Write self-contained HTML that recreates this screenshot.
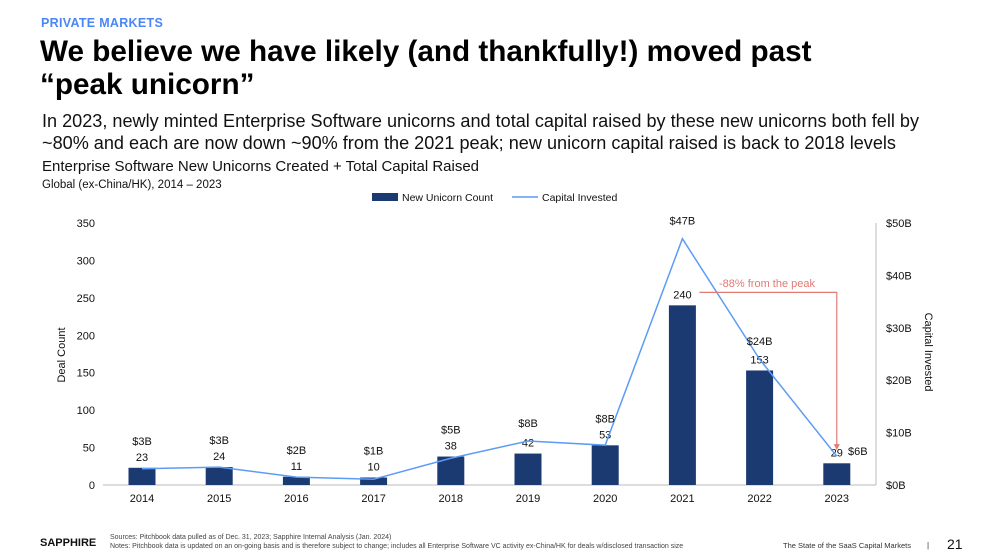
<!DOCTYPE html>
<html><head><meta charset="utf-8">
<style>
body{margin:0;width:1000px;height:559px;background:#fff;font-family:"Liberation Sans",sans-serif;position:relative;overflow:hidden;color:#111}
.a{position:absolute;white-space:nowrap}
</style></head><body>
<div class="a" style="left:41px;top:16px;font-size:12.5px;font-weight:bold;color:#4a86f7;letter-spacing:0.3px">PRIVATE MARKETS</div>
<div class="a" style="left:40px;top:35px;font-size:29.7px;font-weight:bold;line-height:33px;color:#000">We believe we have likely (and thankfully!) moved past<br>“peak unicorn”</div>
<div class="a" style="left:42px;top:110px;font-size:18.1px;line-height:22px;color:#111">In 2023, newly minted Enterprise Software unicorns and total capital raised by these new unicorns both fell by<br>~80% and each are now down ~90% from the 2021 peak; new unicorn capital raised is back to 2018 levels</div>
<div class="a" style="left:42px;top:158px;font-size:15px">Enterprise Software New Unicorns Created + Total Capital Raised</div>
<div class="a" style="left:42px;top:179px;font-size:11.5px">Global (ex-China/HK), 2014 – 2023</div>
<svg class="a" style="left:0;top:0" width="1000" height="559" id="chart" font-family="Liberation Sans, sans-serif"></svg>
<div class="a" style="left:40px;top:537px;font-size:11px;font-weight:bold">SAPPHIRE</div>
<div class="a" style="left:110px;top:533px;font-size:7px;line-height:9px;color:#444">Sources: Pitchbook data pulled as of Dec. 31, 2023; Sapphire Internal Analysis (Jan. 2024)<br>Notes: Pitchbook data is updated on an on-going basis and is therefore subject to change; includes all Enterprise Software VC activity ex-China/HK for deals w/disclosed transaction size</div>
<div class="a" style="left:783px;top:541px;font-size:7.5px;color:#333">The State of the SaaS Capital Markets</div>
<div class="a" style="left:927px;top:541px;font-size:8px;color:#333">|</div>
<div class="a" style="left:947px;top:536px;font-size:14px">21</div>
<script>
const years=["2014","2015","2016","2017","2018","2019","2020","2021","2022","2023"];
const counts=[23,24,11,10,38,42,53,240,153,29];
const capital=[3.1,3.4,1.5,1.1,5.1,8.4,7.6,47,24,5.5];
const capLabels=["$3B","$3B","$2B","$1B","$5B","$8B","$8B","$47B","$24B","$6B"];
const leftTicks=[0,50,100,150,200,250,300,350];
const rightTicks=[0,10,20,30,40,50];
const svg=document.getElementById('chart');
const NS='http://www.w3.org/2000/svg';
function mk(t,a,txt){const e=document.createElementNS(NS,t);for(const k in a)e.setAttribute(k,a[k]);if(txt!=null)e.textContent=txt;svg.appendChild(e);return e;}
const y0=485,y1=223;
const yL=v=>y0-(v/350)*(y0-y1);
const yR=v=>y0-(v/50)*(y0-y1);
const xB=i=>142+i*77.2;
let e=mk('line',{x1:103,y1:y0,x2:876,y2:y0,stroke:'#bbb'});

e=mk('line',{x1:876,y1:y1,x2:876,y2:y0,stroke:'#bbb'});

leftTicks.forEach(v=>{e=mk('text',{x:95,y:yL(v)+4,'font-size':11,'text-anchor':'end',fill:'#111'},v);
});
rightTicks.forEach(v=>{e=mk('text',{x:886,y:yR(v)+4,'font-size':11,fill:'#111'},'$'+v+'B');
});
e=mk('text',{x:0,y:0,'font-size':11,'text-anchor':'middle',transform:'translate(65,355) rotate(-90)',fill:'#111'},'Deal Count');

e=mk('text',{x:0,y:0,'font-size':11,'text-anchor':'middle',transform:'translate(925,352) rotate(90)',fill:'#111'},'Capital Invested');

e=mk('rect',{x:372,y:193,width:26,height:8,fill:'#1c3a72'});

e=mk('text',{x:402,y:201,'font-size':10.5,fill:'#111'},'New Unicorn Count');

e=mk('line',{x1:512,y1:197,x2:538,y2:197,stroke:'#5b9cf6','stroke-width':1.5});

e=mk('text',{x:542,y:201,'font-size':10.5,fill:'#111'},'Capital Invested');

counts.forEach((v,i)=>{
 e=mk('rect',{x:xB(i)-13.5,y:yL(v),width:27,height:y0-yL(v),fill:'#1c3a72'});
 
 e=mk('text',{x:xB(i),y:yL(v)-7,'font-size':11,'text-anchor':'middle',fill:'#111'},v);
 
 e=mk('text',{x:xB(i),y:502,'font-size':11,'text-anchor':'middle',fill:'#111'},years[i]);
 
});
e=mk('polyline',{points:capital.map((v,i)=>xB(i)+','+yR(v)).join(' '),fill:'none',stroke:'#5b9cf6','stroke-width':1.5});

capital.forEach((v,i)=>{
 let x=xB(i),y=Math.min(yL(counts[i])-23,yR(v)-14);
 if(i===capital.length-1){x=xB(i)+21;y=yR(v)-1;}
 e=mk('text',{x:x,y:y,'font-size':11,'text-anchor':'middle',fill:'#111'},capLabels[i]);
 
});
e=mk('polyline',{points:`${xB(7)+17},${yL(counts[7])-13} ${xB(9)},${yL(counts[7])-13} ${xB(9)},${yR(capital[9])-10}`,fill:'none',stroke:'#e07a74','stroke-width':1.2});

e=mk('polygon',{points:`${xB(9)-3},${yR(capital[9])-12} ${xB(9)+3},${yR(capital[9])-12} ${xB(9)},${yR(capital[9])-6}`,fill:'#e07a74'});

e=mk('text',{x:719,y:287,'font-size':11,fill:'#e07a74'},'-88% from the peak');

</script>
</body></html>
